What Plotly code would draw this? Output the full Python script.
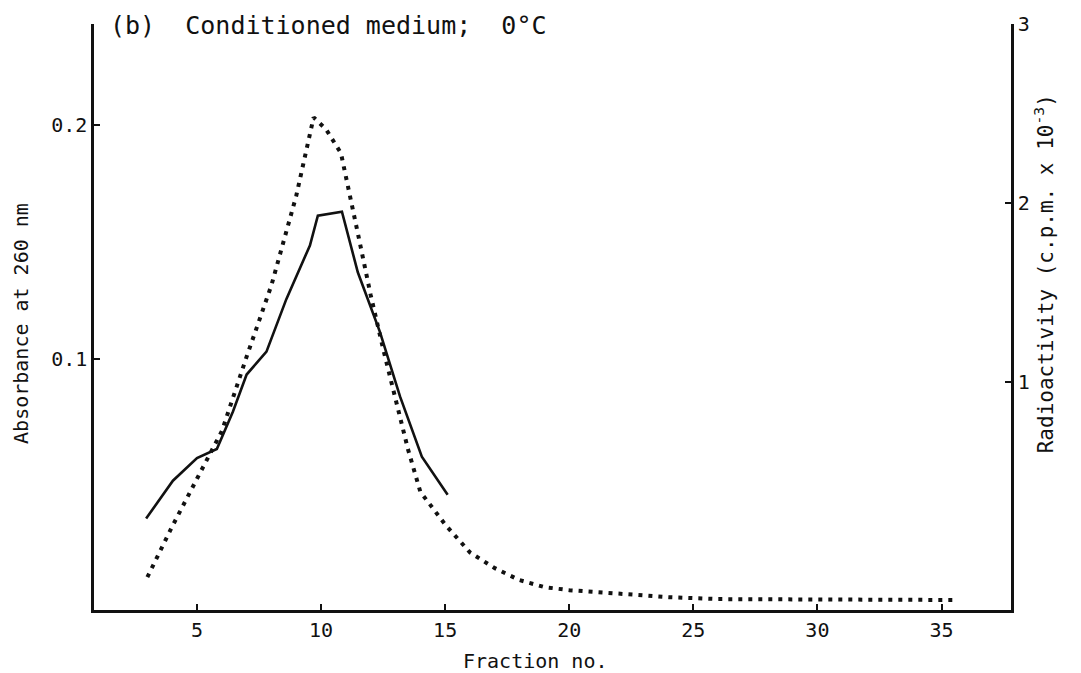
import plotly.graph_objects as go

# Absorbance at 260 nm (solid line, left axis)
abs_fraction = [2.95, 4.03, 5.0, 5.8, 6.45, 7.0, 7.8, 8.6, 9.55, 9.87, 10.84, 11.48, 12.37, 13.18, 14.06, 15.1]
abs_values = [0.0315, 0.0477, 0.0574, 0.0613, 0.0774, 0.0932, 0.103, 0.1255, 0.1485, 0.1613, 0.163, 0.137, 0.1115, 0.0838, 0.058, 0.0417]

# Radioactivity, c.p.m. x 10^-3 (dotted line, right axis)
rad_fraction = [3, 4, 5, 6, 7, 8, 9, 9.7, 10.2, 10.8, 11.5, 12, 12.5, 13, 13.5, 14, 15, 16, 17, 18, 19, 20, 22, 24, 26, 30, 35.6]
rad_values = [-0.094, 0.189, 0.456, 0.722, 1.139, 1.539, 2.039, 2.478, 2.411, 2.278, 1.817, 1.483, 1.183, 0.9, 0.622,
              0.383, 0.2, 0.044, -0.044, -0.111, -0.15, -0.167, -0.189, -0.206, -0.217, -0.217, -0.222]

x_ticks = [5, 10, 15, 20, 25, 30, 35]
left_ticks = [0.1, 0.2]
left_ticklabels = ["0.1", "0.2"]
right_ticks = [1, 2, 3]

FONT = "DejaVu Sans Mono"
INK = "#111111"
W, H = 1081, 673
ML, MR, MT, MB = 94, 70, 20, 63


def px(x, y):
    """pixel position -> paper coordinates"""
    return (x - ML) / (W - ML - MR), (H - MB - y) / (H - MT - MB)


fig = go.Figure()
fig.add_trace(go.Scatter(x=abs_fraction, y=abs_values, mode="lines",
                         line=dict(color=INK, width=2.6), yaxis="y", showlegend=False))
fig.add_trace(go.Scatter(x=rad_fraction, y=rad_values, mode="lines",
                         line=dict(color=INK, width=4, dash="4px,6px"), yaxis="y2", showlegend=False))

axis_common = dict(ticks="inside", ticklen=6, tickwidth=2, tickcolor=INK, showline=True, linecolor=INK,
                   linewidth=2.5, showgrid=False, zeroline=False, tickfont=dict(size=20, family=FONT))

fig.update_layout(
    width=W, height=H,
    margin=dict(l=ML, r=MR, t=MT, b=MB),
    paper_bgcolor="white", plot_bgcolor="white",
    font=dict(family=FONT, color=INK, size=20),
    xaxis=dict(range=[0.85, 37.8], tickvals=x_ticks, **axis_common),
    yaxis=dict(range=[-0.0077, 0.2434], tickvals=left_ticks, ticktext=left_ticklabels, **axis_common),
    yaxis2=dict(range=[-0.278, 3.0], tickvals=right_ticks, overlaying="y", side="right", **axis_common),
)

labels = [
    ("(b)  Conditioned medium;  0°C", 108, 22, 0, 25, "left"),
    ("Absorbance at 260 nm", 21, 322, -90, 20, "center"),
    ("Radioactivity (c.p.m. x 10<sup>-3</sup>)", 1044, 272, -90, 21, "center"),
    ("Fraction no.", 535, 661, 0, 20, "center"),
]
for text, lx, ly, ang, size, xa in labels:
    ax_, ay_ = px(lx, ly)
    fig.add_annotation(text=text, x=ax_, y=ay_, xref="paper", yref="paper", showarrow=False,
                       textangle=ang, font=dict(size=size, family=FONT, color=INK),
                       xanchor=xa, yanchor="middle")

fig.write_html("out.html")
